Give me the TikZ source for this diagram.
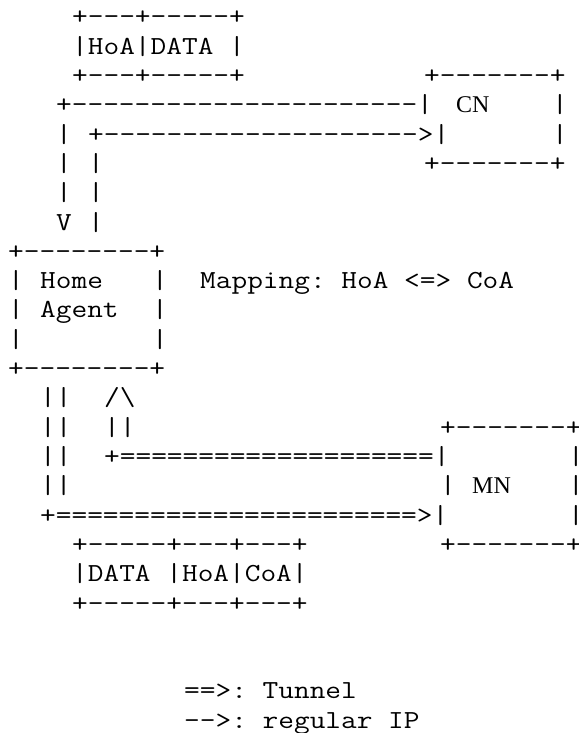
\documentclass[tikz,border=0pt]{standalone}
\usepackage{fontspec}
\setmonofont{Latin Modern Mono}[FakeStretch=1.1722]
\newfontfamily\boxfont{Liberation Serif}

\begin{document}
\frenchspacing
\begin{tikzpicture}[x=16pt,y=-29.3pt,
  txt/.style={anchor=base west,inner sep=0pt,font=\ttfamily\fontsize{26}{29.3}\selectfont},
  lbl/.style={anchor=base west,inner sep=0pt,font=\boxfont\fontsize{24}{29}\selectfont}]
  \useasboundingbox (0,0) rectangle (36.125,25.017);
  \begin{scope}[shift={(0.5,0.853)}]
  % packet from CN
  \node[txt] (pkt1top) at (4,0) {+---+-----+};
  \node[txt] (pkt1mid) at (4,1) {|HoA|DATA |};
  \node[txt] (pkt1bot) at (4,2) {+---+-----+};

  \node[txt] (cntop) at (26,2) {+-------+};
  \node[txt] (cnout) at (3,3) {+----------------------|};
  \node[lbl] (cn) at (28,3) {CN};
  \node[txt] (cnr1) at (34,3) {|};
  \node[txt] (cnl1) at (3,4) {|};
  \node[txt] (cnin) at (5,4) {+-------------------->|};
  \node[txt] (cnr2) at (34,4) {|};
  \node[txt] (cnl2) at (3,5) {|};
  \node[txt] (cnl3) at (5,5) {|};
  \node[txt] (cnbot) at (26,5) {+-------+};
  \node[txt] (cnl4) at (3,6) {|};
  \node[txt] (cnl5) at (5,6) {|};
  \node[txt] (cnv) at (3,7) {V};
  \node[txt] (cnl6) at (5,7) {|};

  % home agent
  \node[txt] (hatop) at (0,8) {+--------+};
  \node[txt] (hal1) at (0,9) {|};
  \node[txt] (ha1) at (2,9) {Home};
  \node[txt] (har1) at (9,9) {|};
  \node[txt] (map) at (12,9) {Mapping: HoA <=> CoA};
  \node[txt] (hal2) at (0,10) {|};
  \node[txt] (ha2) at (2,10) {Agent};
  \node[txt] (har2) at (9,10) {|};
  \node[txt] (hal3) at (0,11) {|};
  \node[txt] (har3) at (9,11) {|};
  \node[txt] (habot) at (0,12) {+--------+};

  % tunnel to MN
  \node[txt] (tun1) at (2,13) {||};
  \node[txt] (up1) at (6,13) {/\textbackslash};
  \node[txt] (tun2) at (2,14) {||};
  \node[txt] (up2) at (6,14) {||};
  \node[txt] (mntop) at (27,14) {+-------+};
  \node[txt] (tun3) at (2,15) {||};
  \node[txt] (mnout) at (6,15) {+====================|};
  \node[txt] (mnr1) at (35,15) {|};
  \node[txt] (tun4) at (2,16) {||};
  \node[txt] (mnl2) at (27,16) {|};
  \node[lbl] (mn) at (29,16) {MN};
  \node[txt] (mnr2) at (35,16) {|};
  \node[txt] (mnin) at (2,17) {+=======================>|};
  \node[txt] (mnr3) at (35,17) {|};
  \node[txt] (mnbot) at (27,18) {+-------+};

  % tunnelled packet
  \node[txt] (pkt2top) at (4,18) {+-----+---+---+};
  \node[txt] (pkt2mid) at (4,19) {|DATA |HoA|CoA|};
  \node[txt] (pkt2bot) at (4,20) {+-----+---+---+};

  \node[txt] (key1) at (11,23) {==>: Tunnel};
  \node[txt] (key2) at (11,24) {-->: regular IP};
  \end{scope}
\end{tikzpicture}
\end{document}
